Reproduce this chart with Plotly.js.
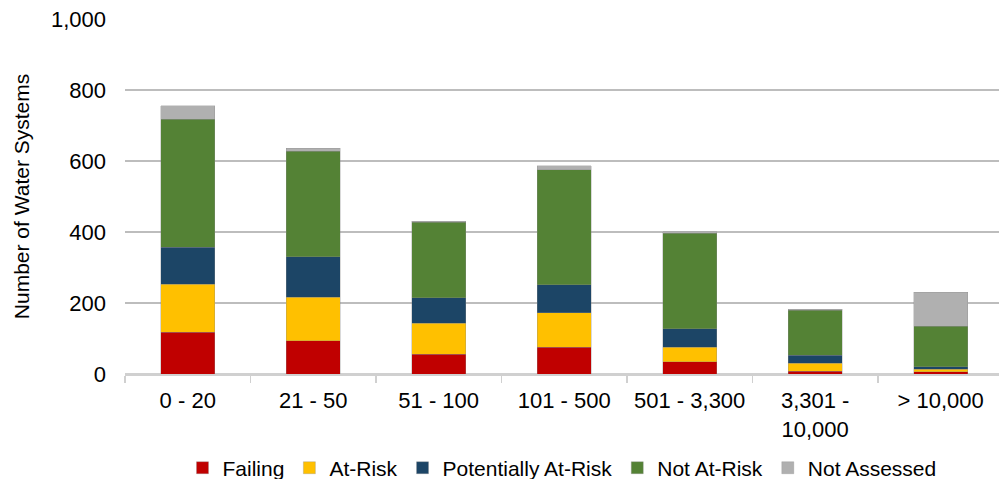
<!DOCTYPE html>
<html>
<head>
<meta charset="utf-8">
<script src="https://cdn.plot.ly/plotly-3.0.1.min.js"></script>
<style>
  html, body { margin: 0; padding: 0; background: #fff; }
  #chart { width: 999px; height: 479px; }
</style>
</head>
<body>
<div id="chart"></div>
<script>
// System size categories (population served)
const sizeCategories = ["0 - 20", "21 - 50", "51 - 100", "101 - 500", "501 - 3,300", "3,301 -<br>10,000", "> 10,000"];

// Number of water systems in each risk group, per size category
const failing        = [118, 94, 56, 75, 34, 8, 6];
const atRisk         = [135, 122, 87, 98, 42, 22, 7];
const potentialRisk  = [104, 115, 72, 78, 52, 23, 8];
const notAtRisk      = [361, 297, 213, 324, 268, 126, 114];
const notAssessed    = [37, 8, 3, 11, 5, 4, 96];

const yTickValues = [0, 200, 400, 600, 800, 1000];
const yTickLabels = ["0", "200", "400", "600", "800", "1,000"];

const seriesDefs = [
  { name: "Failing",              values: failing,       color: "#C00000" },
  { name: "At-Risk",              values: atRisk,        color: "#FFC000" },
  { name: "Potentially At-Risk",  values: potentialRisk, color: "#1C4566" },
  { name: "Not At-Risk",          values: notAtRisk,     color: "#548235" },
  { name: "Not Assessed",         values: notAssessed,   color: "#B0B0B0" }
];

const traces = seriesDefs.map(s => ({
  type: "bar",
  name: s.name,
  x: sizeCategories,
  y: s.values,
  marker: { color: s.color, line: { color: "rgba(140,140,140,0.55)", width: 0.6 } },
  hoverinfo: "x+y+name"
}));

const font = "'Liberation Sans', Arial, sans-serif";

const layout = {
  width: 999,
  height: 479,
  barmode: "stack",
  bargap: 0.57,
  margin: { l: 125, r: 0, t: 19, b: 105, autoexpand: false },
  paper_bgcolor: "#ffffff",
  plot_bgcolor: "#ffffff",
  font: { family: font, size: 22, color: "#000000" },
  showlegend: true,
  legend: {
    orientation: "h",
    x: 0.5, xanchor: "center",
    y: -0.265, yanchor: "middle",
    font: { family: font, size: 21, color: "#000000" },
    itemwidth: 30,
    traceorder: "normal"
  },
  xaxis: {
    type: "category",
    range: [-0.5, 6.465],
    automargin: false,
    tickson: "boundaries",
    ticks: "outside",
    ticklen: 7,
    tickcolor: "#d0d0d0",
    tickwidth: 1.5,
    showline: true,
    linecolor: "#d0d0d0",
    linewidth: 1.5,
    showgrid: false,
    ticklabelstandoff: 6,
    tickfont: { family: font, size: 22, color: "#000000" },
    fixedrange: true
  },
  yaxis: {
    range: [0, 1000],
    automargin: false,
    tickvals: yTickValues,
    ticktext: yTickLabels,
    showgrid: true,
    gridcolor: "#bdbdbd",
    gridwidth: 1.3,
    zeroline: true,
    zerolinecolor: "#d0d0d0",
    zerolinewidth: 1.5,
    ticks: "",
    ticklabelstandoff: 18,
    tickfont: { family: font, size: 22, color: "#000000" },
    title: { text: "Number of Water Systems", font: { family: font, size: 21, color: "#000000" }, standoff: 15 },
    fixedrange: true
  }
};

Plotly.newPlot("chart", traces, layout, { displayModeBar: false, staticPlot: true });
</script>
</body>
</html>
